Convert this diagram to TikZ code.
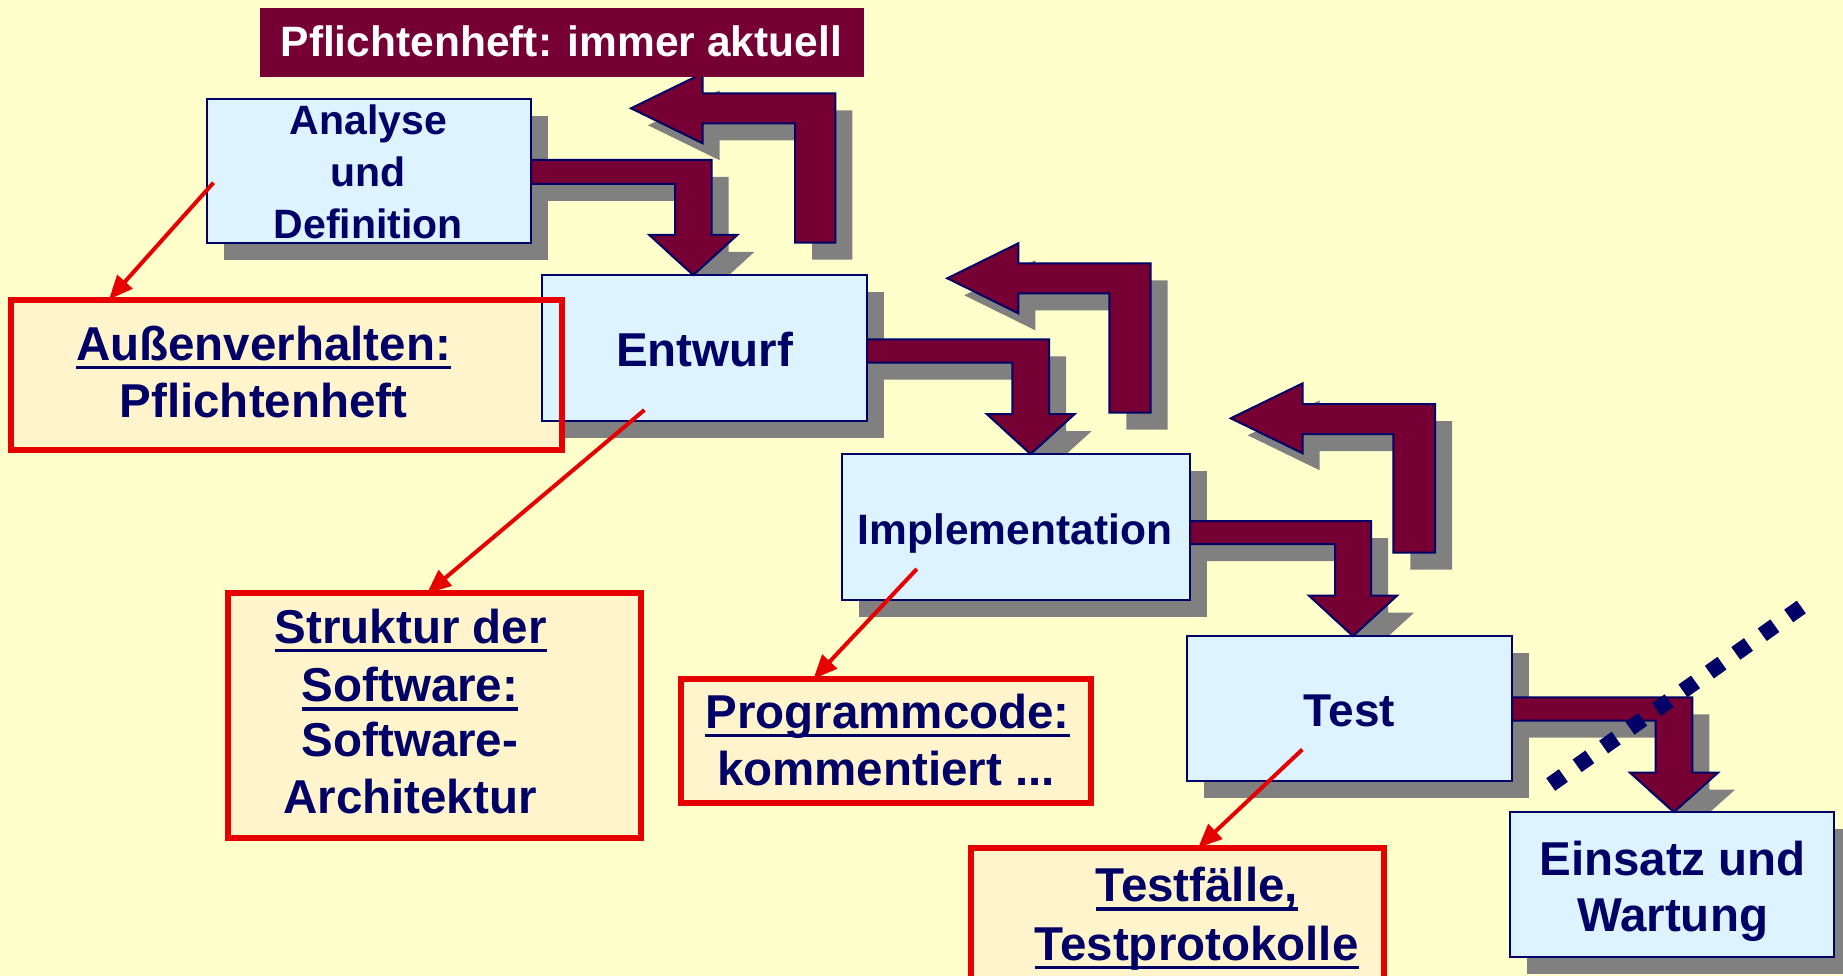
\documentclass[tikz,border=0pt]{standalone}
\usepackage{fontspec}
\setmainfont{Liberation Sans}
\usetikzlibrary{arrows.meta}

\definecolor{pagebg}{HTML}{FFFFCC}
\definecolor{boxblue}{HTML}{DDF3FF}
\definecolor{navy}{HTML}{000066}
\definecolor{maroon}{HTML}{760033}
\definecolor{shadowgray}{HTML}{808080}
\definecolor{alert}{HTML}{E60000}
\definecolor{cream}{HTML}{FFF4CC}

\pgfdeclarelayer{back}
\pgfdeclarelayer{shadows}
\pgfdeclarelayer{front}
\pgfsetlayers{back,shadows,main,front}

\newcommand\fsz[1]{\fontsize{#1}{#1}\selectfont}
% underline at a fixed depth below the baseline
\newcommand\ulx[1]{\leavevmode\setbox0=\hbox{#1}\rlap{\rule[-9pt]{\wd0}{3.5pt}}\box0}

\tikzset{
  phase/.style={draw=navy, line width=2.2pt, fill=boxblue, inner sep=0pt, outer sep=0pt},
  note/.style={fill=cream, inner sep=0pt, outer sep=0pt},
  noteframe/.style={draw=alert, line width=6pt},
  flow/.style={fill=maroon, draw=navy, line width=2pt, line join=miter},
  shadowfill/.style={fill=shadowgray, transform canvas={shift={(17pt,-17pt)}}},
  lbl/.style={inner sep=0pt, anchor=base, text=navy, font=\bfseries\fsz{47.5}},
  pointer/.style={draw=alert, line width=4pt, -{Triangle[length=24pt,width=20pt]}},
  dots/.style={draw=navy, line width=15.5pt, dash pattern=on 15.5pt off 16.9pt},
}

% forward arrows between consecutive phases
\newcommand\flowAB{(ana.east |- 0,160) -- (711.7,160) -- (711.7,235) -- (737.3,235) -- (693.3,0 |- ent.north) -- (649.3,235) -- (675,235) -- (675,184) -- (ana.east |- 0,184) -- cycle}
\newcommand\flowBC{(ent.east |- 0,339.3) -- (1049,339.3) -- (1049,414) -- (1074.7,414) -- (1030.7,0 |- imp.north) -- (986.7,414) -- (1012.3,414) -- (1012.3,362.7) -- (ent.east |- 0,362.7) -- cycle}
\newcommand\flowCD{(imp.east |- 0,521) -- (1371,521) -- (1371,595.7) -- (1397,595.7) -- (1353,0 |- tst.north) -- (1309,595.7) -- (1335,595.7) -- (1335,544) -- (imp.east |- 0,544) -- cycle}
\newcommand\flowDE{(tst.east |- 0,697.3) -- (1692.3,697.3) -- (1692.3,772.7) -- (1718,772.7) -- (1674,0 |- ein.north) -- (1630,772.7) -- (1655.7,772.7) -- (1655.7,720.7) -- (tst.east |- 0,720.7) -- cycle}
% feedback arrows
\newcommand\backB{(631,108.3) -- (702.7,73.3) -- (702.7,93.3) -- (835.3,93.3) -- (835.3,242.7) -- (795,242.7) -- (795,123.3) -- (702.7,123.3) -- (702.7,143.3) -- cycle}
\newcommand\backC{(947.3,278.3) -- (1018.3,243.3) -- (1018.3,263.3) -- (1150.7,263.3) -- (1150.7,412.7) -- (1109.3,412.7) -- (1109.3,293.3) -- (1018.3,293.3) -- (1018.3,313.3) -- cycle}
\newcommand\backD{(1230.7,418.3) -- (1302.7,383.3) -- (1302.7,404) -- (1435,404) -- (1435,552.7) -- (1393.3,552.7) -- (1393.3,434) -- (1302.7,434) -- (1302.7,453.3) -- cycle}

\begin{document}
\begin{tikzpicture}[x=1pt,y=-1pt]
\useasboundingbox (0,0) rectangle (1843,976);

% page and note fills
\begin{pgfonlayer}{back}
  \fill[pagebg] (0,0) rectangle (1843,976);
  \node[note, minimum width=551.5pt, minimum height=150pt] (nA) at (286.25,374.5) {};
  \node[note, minimum width=413.5pt, minimum height=244.7pt] (nB) at (434.25,715.65) {};
  \node[note, minimum width=410pt, minimum height=124.4pt] (nC) at (886.25,741.1) {};
  \node[note, minimum width=413.2pt, minimum height=152.2pt] (nD) at (1177.4,923.9) {};
\end{pgfonlayer}

% phases
\node[phase, minimum width=324pt, minimum height=144pt] (ana) at (369,171) {};
\node[phase, minimum width=325pt, minimum height=146pt] (ent) at (704.5,348) {};
\node[phase, minimum width=348pt, minimum height=146pt] (imp) at (1016,527) {};
\node[phase, minimum width=325pt, minimum height=145pt] (tst) at (1349.5,708.5) {};
\node[phase, minimum width=324pt, minimum height=145pt] (ein) at (1672,884.5) {};

% block arrows
\filldraw[flow] \flowAB;
\filldraw[flow] \flowBC;
\filldraw[flow] \flowCD;
\filldraw[flow] \flowDE;
\filldraw[flow] \backB;
\filldraw[flow] \backC;
\filldraw[flow] \backD;

% drop shadows
\begin{pgfonlayer}{shadows}
  \foreach \b in {ana,ent,imp,tst,ein}
    \fill[shadowfill] (\b.south west) rectangle (\b.north east);
  \fill[shadowfill] \flowAB;
  \fill[shadowfill] \flowBC;
  \fill[shadowfill] \flowCD;
  \fill[shadowfill] \flowDE;
  \fill[shadowfill] \backB;
  \fill[shadowfill] \backC;
  \fill[shadowfill] \backD;
\end{pgfonlayer}

% phase labels
\node[lbl, font=\bfseries\fsz{41}] (tAna1) at (368.4,135) {Analyse};
\node[lbl, font=\bfseries\fsz{41}] (tAna2) at (368.4,186.7) {und};
\node[lbl, font=\bfseries\fsz{41}] (tAna3) at (368.4,238.3) {Definition};
\node[lbl] (tEnt) at (704.5,366.7) {Entwurf};
\node[lbl, font=\bfseries\fsz{42.5}] (tImp) at (1015,544) {Implementation};
\node[lbl, font=\bfseries\fsz{46}] (tTst) at (1349.3,726.7) {Test};
\node[lbl] (tEin1) at (1672.6,875) {Einsatz und};
\node[lbl] (tEin2) at (1672.6,931) {Wartung};

% note labels
\node[lbl] (tA1) at (263.5,360) {\ulx{Außenverhalten:}};
\node[lbl] (tA2) at (263.5,417.7) {Pflichtenheft};
\node[lbl] (tB1) at (410.8,643.3) {\ulx{Struktur der}};
\node[lbl] (tB2) at (410,701.7) {\ulx{Software:}};
\node[lbl] (tB3) at (410,756.7) {Software-};
\node[lbl] (tB4) at (410,813.3) {Architektur};
\node[lbl] (tC1) at (887.6,728) {\ulx{Programmcode:}};
\node[lbl] (tC2) at (886,785) {kommentiert ...};
\node[lbl] (tD1) at (1196.7,901.7) {\ulx{Testfälle,}};
\node[lbl] (tD2) at (1196.7,960) {\ulx{Testprotokolle}};

\begin{pgfonlayer}{front}
  % note frames
  \foreach \n in {nA,nB,nC,nD}
    \draw[noteframe] (\n.south west) rectangle (\n.north east);
  % pointers from phases to their documents
  \coordinate (pA) at (213.5,182.7);
  \coordinate (pB) at (644.4,410);
  \coordinate (pC) at (916.8,569);
  \coordinate (pD) at (1302.3,749.5);
  \draw[pointer] (pA) -- (109,0 |- nA.north);
  \draw[pointer] (pB) -- (427,0 |- nB.north);
  \draw[pointer] (pC) -- (813.4,0 |- nC.north);
  \draw[pointer] (pD) -- (1198,0 |- nD.north);
  % banner
  \node[fill=maroon, minimum width=604pt, minimum height=69pt, inner sep=0pt] (title) at (562,42.5) {};
  \node[lbl, text=white, font=\bfseries\fsz{42.5}] (titletext) at (561.3,56.7) {Pflichtenheft: immer aktuell};
  % dotted boundary
  \coordinate (dotS) at (1550.7,784.5);
  \coordinate (dotE) at (1801.3,607.0);
  \draw[dots] (dotS) -- (dotE);
\end{pgfonlayer}
\end{tikzpicture}
\end{document}
